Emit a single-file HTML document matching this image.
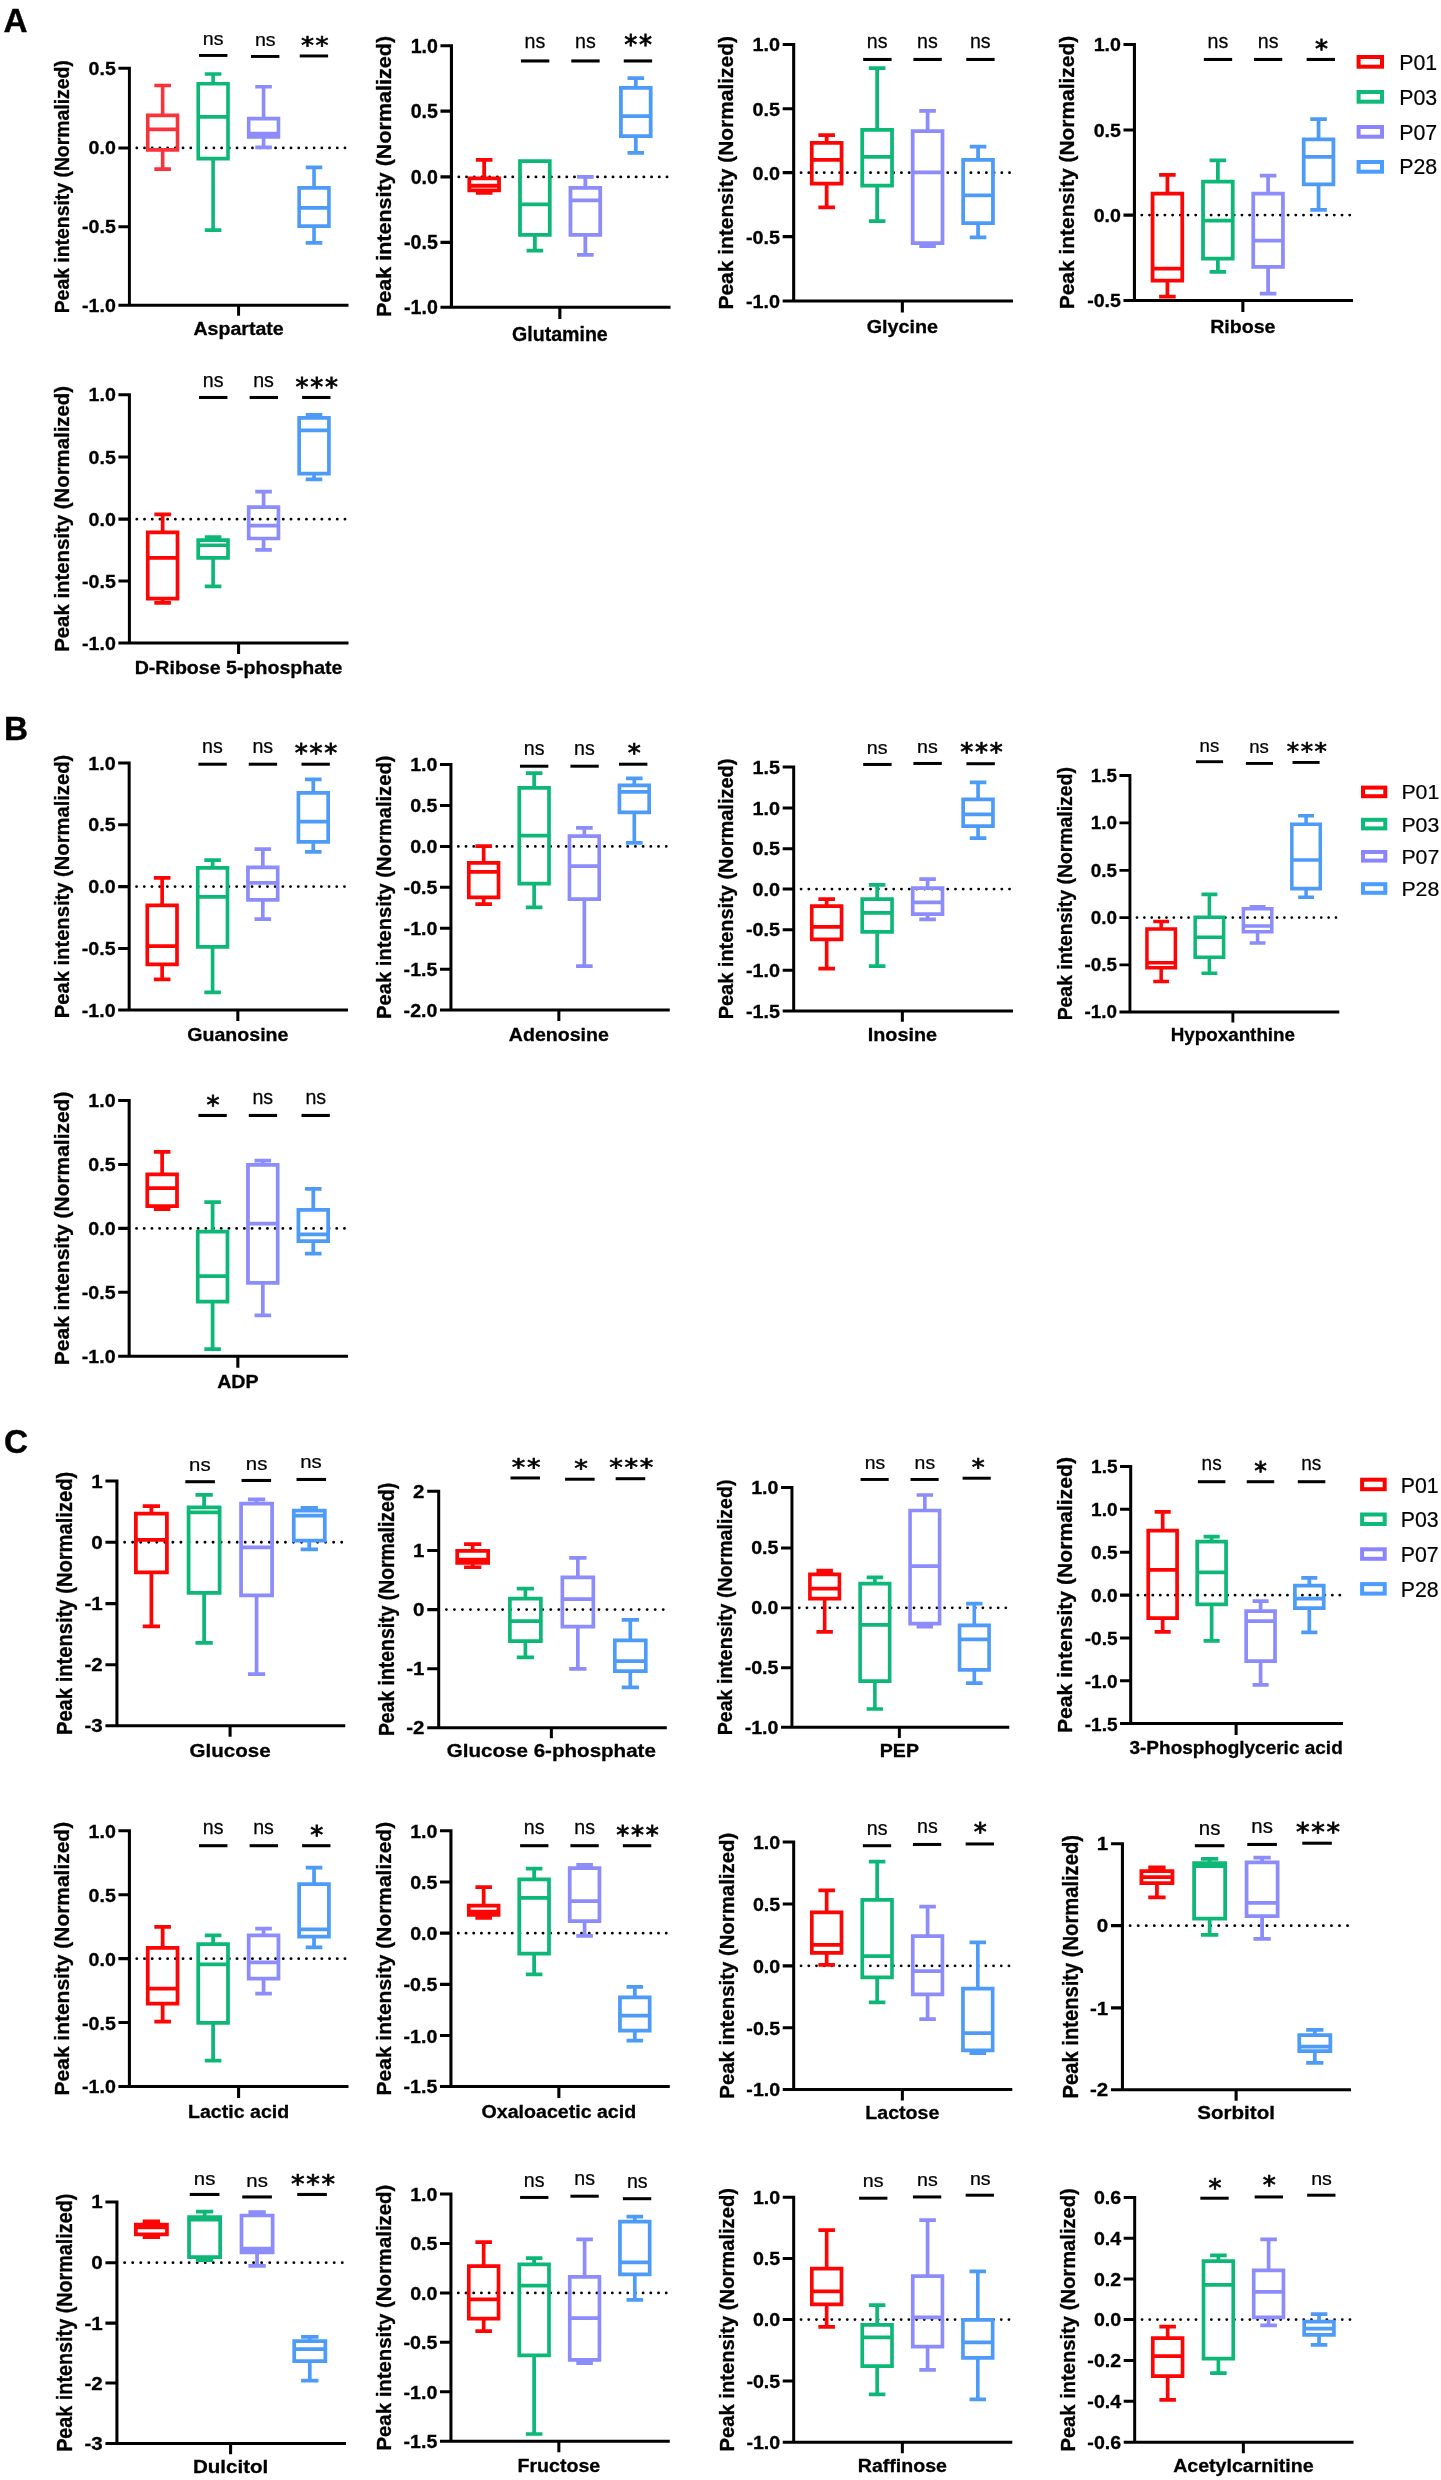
<!DOCTYPE html>
<html lang="en"><head><meta charset="utf-8"><title>Figure</title>
<style>
html,body{margin:0;padding:0;background:#fff}
svg{display:block;will-change:transform}
text{font-family:"Liberation Sans",Arial,sans-serif;fill:#000}
.b{font-weight:bold;font-size:19.4px;stroke:#000;stroke-width:.3px}
.n{font-size:19.6px;stroke:#000;stroke-width:.25px}
.s{font-family:"DejaVu Sans","Liberation Sans",sans-serif;font-size:26.0px;stroke:#000;stroke-width:.8px;letter-spacing:1.7px}
.l{font-size:21.3px;stroke:#000;stroke-width:.2px}
.p{font-weight:bold;font-size:33.3px;stroke:#000;stroke-width:.4px}
</style></head><body>
<svg width="1441" height="2480" viewBox="0 0 1441 2480">
<rect width="1441" height="2480" fill="#fff"/>
<g>
<line x1="136.8" y1="147.9" x2="346.59" y2="147.9" stroke="#000" stroke-width="2.8" stroke-linecap="round" stroke-dasharray="0 7.71"/>
<path d="M154.34 85.44H170.93M154.34 169.13H170.93M162.64 85.44V115.42M162.64 149.9V169.13M147.75 115.42H177.52V149.9H147.75ZM147.75 129.41H177.52" fill="none" stroke="#F8333C" stroke-width="3.6" stroke-linejoin="miter"/>
<path d="M204.81 73.95H221.39M204.81 230.09H221.39M213.1 73.95V83.69M213.1 158.64V230.09M198.22 83.69H227.99V158.64H198.22ZM198.22 116.92H227.99" fill="none" stroke="#0DB877" stroke-width="3.6" stroke-linejoin="miter"/>
<path d="M255.27 86.69H271.86M255.27 147.4H271.86M263.57 86.69V118.67M263.57 136.9V147.4M248.68 118.67H278.45V136.9H248.68ZM248.68 133.66H278.45" fill="none" stroke="#8C8CFA" stroke-width="3.6" stroke-linejoin="miter"/>
<path d="M305.74 167.38H322.32M305.74 242.83H322.32M314.03 167.38V187.87M314.03 226.09V242.83M299.15 187.87H328.92V226.09H299.15ZM299.15 207.86H328.92" fill="none" stroke="#4D9BF7" stroke-width="3.6" stroke-linejoin="miter"/>
<path d="M129.41 66.73V305.29H348.51M118.42 68.2H129.41M118.42 147.9H129.41M118.42 226.84H129.41M118.42 305.29H129.41M238.58 305.29V315.81" fill="none" stroke="#000" stroke-width="2.95" stroke-linecap="butt" stroke-linejoin="miter"/>
<text class="b" text-anchor="end" transform="translate(115.82 74.62) scale(1.01 0.91)">0.5</text>
<text class="b" text-anchor="end" transform="translate(115.82 154.31) scale(1.01 0.91)">0.0</text>
<text class="b" text-anchor="end" transform="translate(115.82 233.26) scale(1.01 0.91)">-0.5</text>
<text class="b" text-anchor="end" transform="translate(115.82 311.7) scale(1.01 0.91)">-1.0</text>
<text class="b" text-anchor="middle" transform="translate(69.27 186.75) rotate(-90) scale(1 1.05)">Peak intensity (Normalized)</text>
<text class="b" text-anchor="middle" transform="translate(238.58 335.07) scale(1.01 0.91)">Aspartate</text>
<line x1="199.04" y1="55.46" x2="227.41" y2="55.46" stroke="#000" stroke-width="2.95"/>
<text class="n" text-anchor="middle" transform="translate(213.1 45.12) scale(1 0.95)">ns</text>
<line x1="251" y1="56.46" x2="279.38" y2="56.46" stroke="#000" stroke-width="2.95"/>
<text class="n" text-anchor="middle" transform="translate(265.32 46.37) scale(1 0.95)">ns</text>
<line x1="299.72" y1="55.96" x2="328.09" y2="55.96" stroke="#000" stroke-width="2.95"/>
<text class="s" text-anchor="middle" transform="translate(315.63 52.67) scale(1 0.9)">**</text>
</g>
<g>
<line x1="458.83" y1="176.88" x2="668.62" y2="176.88" stroke="#000" stroke-width="2.95" stroke-linecap="round" stroke-dasharray="0 7.71"/>
<path d="M475.87 159.89H492.46M475.87 192.87H492.46M484.16 159.89V178.38M484.16 190.37V192.87M469.28 178.38H499.05V190.37H469.28ZM469.28 185.75H499.05" fill="none" stroke="#FE0505" stroke-width="3.79" stroke-linejoin="miter"/>
<path d="M526.59 161.14H543.17M526.59 250.58H543.17M534.88 161.14V161.14M534.88 234.84V250.58M519.99 161.14H549.76V234.84H519.99ZM519.99 204.36H549.76" fill="none" stroke="#0DB877" stroke-width="3.79" stroke-linejoin="miter"/>
<path d="M577.05 176.88H593.64M577.05 254.82H593.64M585.34 176.88V187.87M585.34 234.84V254.82M570.46 187.87H600.23V234.84H570.46ZM570.46 200.36H600.23" fill="none" stroke="#8C8CFA" stroke-width="3.79" stroke-linejoin="miter"/>
<path d="M627.52 78.2H644.1M627.52 152.89H644.1M635.81 78.2V87.94M635.81 136.16V152.89M620.92 87.94H650.69V136.16H620.92ZM620.92 116.17H650.69" fill="none" stroke="#4D9BF7" stroke-width="3.79" stroke-linejoin="miter"/>
<path d="M451.44 44.17V307.29H670.53M440.45 45.72H451.44M440.45 111.17H451.44M440.45 176.88H451.44M440.45 242.33H451.44M440.45 307.29H451.44M559.86 307.29V318.9" fill="none" stroke="#000" stroke-width="3.1" stroke-linecap="butt" stroke-linejoin="miter"/>
<text class="b" text-anchor="end" transform="translate(437.85 52.8) scale(1.01 1.01)">1.0</text>
<text class="b" text-anchor="end" transform="translate(437.85 118.25) scale(1.01 1.01)">0.5</text>
<text class="b" text-anchor="end" transform="translate(437.85 183.96) scale(1.01 1.01)">0.0</text>
<text class="b" text-anchor="end" transform="translate(437.85 249.41) scale(1.01 1.01)">-0.5</text>
<text class="b" text-anchor="end" transform="translate(437.85 314.36) scale(1.01 1.01)">-1.0</text>
<text class="b" text-anchor="middle" transform="translate(391.29 176.5) rotate(-90) scale(1.11 1.05)">Peak intensity (Normalized)</text>
<text class="b" text-anchor="middle" transform="translate(559.86 341.06) scale(1.01 1.01)">Glutamine</text>
<line x1="520.94" y1="60.96" x2="549.32" y2="60.96" stroke="#000" stroke-width="3.1"/>
<text class="n" text-anchor="middle" transform="translate(534.88 48.37) scale(1 1.05)">ns</text>
<line x1="571.28" y1="60.96" x2="599.66" y2="60.96" stroke="#000" stroke-width="3.1"/>
<text class="n" text-anchor="middle" transform="translate(585.34 48.37) scale(1 1.05)">ns</text>
<line x1="623.75" y1="60.96" x2="652.12" y2="60.96" stroke="#000" stroke-width="3.1"/>
<text class="s" text-anchor="middle" transform="translate(638.91 53.8) scale(1 1)">**</text>
</g>
<g>
<line x1="801.09" y1="172.63" x2="1011.12" y2="172.63" stroke="#000" stroke-width="2.92" stroke-linecap="round" stroke-dasharray="0 7.72"/>
<path d="M818.36 135.16H834.96M818.36 207.36H834.96M826.66 135.16V142.9M826.66 183.62V207.36M811.76 142.9H841.57V183.62H811.76ZM811.76 159.89H841.57" fill="none" stroke="#FE0505" stroke-width="3.75" stroke-linejoin="miter"/>
<path d="M868.83 68.2H885.43M868.83 221.1H885.43M877.13 68.2V129.91M877.13 185.62V221.1M862.22 129.91H892.03V185.62H862.22ZM862.22 156.89H892.03" fill="none" stroke="#0DB877" stroke-width="3.75" stroke-linejoin="miter"/>
<path d="M919.29 110.92H935.89M919.29 246.08H935.89M927.59 110.92V131.16M927.59 243.08V246.08M912.69 131.16H942.5V243.08H912.69ZM912.69 172.38H942.5" fill="none" stroke="#8C8CFA" stroke-width="3.75" stroke-linejoin="miter"/>
<path d="M969.76 146.65H986.36M969.76 237.34H986.36M978.06 146.65V159.89M978.06 223.1V237.34M963.15 159.89H992.96V223.1H963.15ZM963.15 195.36H992.96" fill="none" stroke="#4D9BF7" stroke-width="3.75" stroke-linejoin="miter"/>
<path d="M793.68 42.93V301.04H1013.03M782.68 44.47H793.68M782.68 108.67H793.68M782.68 172.63H793.68M782.68 236.59H793.68M782.68 301.04H793.68M902.36 301.04V312.43" fill="none" stroke="#000" stroke-width="3.08" stroke-linecap="butt" stroke-linejoin="miter"/>
<text class="b" text-anchor="end" transform="translate(780.08 51.41) scale(1.02 0.99)">1.0</text>
<text class="b" text-anchor="end" transform="translate(780.08 115.62) scale(1.02 0.99)">0.5</text>
<text class="b" text-anchor="end" transform="translate(780.08 179.57) scale(1.02 0.99)">0.0</text>
<text class="b" text-anchor="end" transform="translate(780.08 243.53) scale(1.02 0.99)">-0.5</text>
<text class="b" text-anchor="end" transform="translate(780.08 307.98) scale(1.02 0.99)">-1.0</text>
<text class="b" text-anchor="middle" transform="translate(733.47 172.76) rotate(-90) scale(1.08 1.05)">Peak intensity (Normalized)</text>
<text class="b" text-anchor="middle" transform="translate(902.36 332.57) scale(1.02 0.99)">Glycine</text>
<line x1="863.17" y1="59.46" x2="891.58" y2="59.46" stroke="#000" stroke-width="3.08"/>
<text class="n" text-anchor="middle" transform="translate(877.13 47.87) scale(1 1.03)">ns</text>
<line x1="913.39" y1="59.46" x2="941.8" y2="59.46" stroke="#000" stroke-width="3.08"/>
<text class="n" text-anchor="middle" transform="translate(927.34 47.87) scale(1 1.03)">ns</text>
<line x1="966.23" y1="59.46" x2="994.63" y2="59.46" stroke="#000" stroke-width="3.08"/>
<text class="n" text-anchor="middle" transform="translate(980.31 47.87) scale(1 1.03)">ns</text>
</g>
<g>
<line x1="1141.81" y1="215.1" x2="1351.12" y2="215.1" stroke="#000" stroke-width="2.91" stroke-linecap="round" stroke-dasharray="0 7.7"/>
<path d="M1159.14 174.88H1175.68M1159.14 296.54H1175.68M1167.41 174.88V193.62M1167.41 280.56V296.54M1152.56 193.62H1182.26V280.56H1152.56ZM1152.56 268.56H1182.26" fill="none" stroke="#FE0505" stroke-width="3.74" stroke-linejoin="miter"/>
<path d="M1209.6 160.39H1226.15M1209.6 271.81H1226.15M1217.88 160.39V181.62M1217.88 258.57V271.81M1203.02 181.62H1232.73V258.57H1203.02ZM1203.02 220.6H1232.73" fill="none" stroke="#0DB877" stroke-width="3.74" stroke-linejoin="miter"/>
<path d="M1259.82 175.63H1276.37M1259.82 293.55H1276.37M1268.09 175.63V193.62M1268.09 266.81V293.55M1253.24 193.62H1282.94V266.81H1253.24ZM1253.24 240.58H1282.94" fill="none" stroke="#8C8CFA" stroke-width="3.74" stroke-linejoin="miter"/>
<path d="M1310.28 119.17H1326.83M1310.28 209.85H1326.83M1318.56 119.17V139.4M1318.56 184.37V209.85M1303.7 139.4H1333.41V184.37H1303.7ZM1303.7 156.89H1333.41" fill="none" stroke="#4D9BF7" stroke-width="3.74" stroke-linejoin="miter"/>
<path d="M1134.43 42.94V300.54H1353.03M1123.47 44.47H1134.43M1123.47 129.91H1134.43M1123.47 215.1H1134.43M1123.47 300.54H1134.43M1242.86 300.54V311.91" fill="none" stroke="#000" stroke-width="3.07" stroke-linecap="butt" stroke-linejoin="miter"/>
<text class="b" text-anchor="end" transform="translate(1120.88 51.4) scale(1.01 0.99)">1.0</text>
<text class="b" text-anchor="end" transform="translate(1120.88 136.84) scale(1.01 0.99)">0.5</text>
<text class="b" text-anchor="end" transform="translate(1120.88 222.03) scale(1.01 0.99)">0.0</text>
<text class="b" text-anchor="end" transform="translate(1120.88 307.47) scale(1.01 0.99)">-0.5</text>
<text class="b" text-anchor="middle" transform="translate(1074.43 172.51) rotate(-90) scale(1.08 1.05)">Peak intensity (Normalized)</text>
<text class="b" text-anchor="middle" transform="translate(1242.86 332.57) scale(1.01 0.99)">Ribose</text>
<line x1="1203.85" y1="59.46" x2="1232.16" y2="59.46" stroke="#000" stroke-width="3.07"/>
<text class="n" text-anchor="middle" transform="translate(1217.88 47.87) scale(1 1.03)">ns</text>
<line x1="1253.94" y1="59.46" x2="1282.25" y2="59.46" stroke="#000" stroke-width="3.07"/>
<text class="n" text-anchor="middle" transform="translate(1268.09 47.87) scale(1 1.03)">ns</text>
<line x1="1306.65" y1="59.46" x2="1334.96" y2="59.46" stroke="#000" stroke-width="3.07"/>
<text class="s" text-anchor="middle" transform="translate(1322.4 56.79) scale(1 0.97)">*</text>
</g>
<g>
<line x1="136.8" y1="519.13" x2="346.59" y2="519.13" stroke="#000" stroke-width="2.87" stroke-linecap="round" stroke-dasharray="0 7.71"/>
<path d="M154.34 514.39H170.93M154.34 602.82H170.93M162.64 514.39V532.37M162.64 598.58V602.82M147.75 532.37H177.52V598.58H147.75ZM147.75 557.86H177.52" fill="none" stroke="#FE0505" stroke-width="3.69" stroke-linejoin="miter"/>
<path d="M204.81 537.07H221.39M204.81 586.29H221.39M213.1 537.07V540.19M213.1 557.86V586.29M198.22 540.19H227.99V557.86H198.22ZM198.22 545.24H227.99" fill="none" stroke="#0DB877" stroke-width="3.69" stroke-linejoin="miter"/>
<path d="M255.27 491.6H271.86M255.27 549.86H271.86M263.57 491.6V507.14M263.57 538.52V549.86M248.68 507.14H278.45V538.52H248.68ZM248.68 525.63H278.45" fill="none" stroke="#8C8CFA" stroke-width="3.69" stroke-linejoin="miter"/>
<path d="M305.74 414.95H322.32M305.74 479.41H322.32M314.03 414.95V417.95M314.03 473.66V479.41M299.15 417.95H328.92V473.66H299.15ZM299.15 430.44H328.92" fill="none" stroke="#4D9BF7" stroke-width="3.69" stroke-linejoin="miter"/>
<path d="M129.41 393.21V643.05H348.51M118.42 394.72H129.41M118.42 456.93H129.41M118.42 519.13H129.41M118.42 581.09H129.41M118.42 643.05H129.41M238.58 643.05V654.07" fill="none" stroke="#000" stroke-width="3.02" stroke-linecap="butt" stroke-linejoin="miter"/>
<text class="b" text-anchor="end" transform="translate(115.82 401.44) scale(1.01 0.96)">1.0</text>
<text class="b" text-anchor="end" transform="translate(115.82 463.65) scale(1.01 0.96)">0.5</text>
<text class="b" text-anchor="end" transform="translate(115.82 525.85) scale(1.01 0.96)">0.0</text>
<text class="b" text-anchor="end" transform="translate(115.82 587.81) scale(1.01 0.96)">-0.5</text>
<text class="b" text-anchor="end" transform="translate(115.82 649.77) scale(1.01 0.96)">-1.0</text>
<text class="b" text-anchor="middle" transform="translate(69.27 518.88) rotate(-90) scale(1.05 1.05)">Peak intensity (Normalized)</text>
<text class="b" text-anchor="middle" transform="translate(238.58 674.33) scale(1.01 0.96)">D-Ribose 5-phosphate</text>
<line x1="199.04" y1="397.47" x2="227.41" y2="397.47" stroke="#000" stroke-width="3.02"/>
<text class="n" text-anchor="middle" transform="translate(213.1 387.37) scale(1 1)">ns</text>
<line x1="249.63" y1="397.47" x2="278" y2="397.47" stroke="#000" stroke-width="3.02"/>
<text class="n" text-anchor="middle" transform="translate(263.57 387.37) scale(1 1)">ns</text>
<line x1="302.09" y1="397.47" x2="330.47" y2="397.47" stroke="#000" stroke-width="3.02"/>
<text class="s" text-anchor="middle" transform="translate(317.63 395.19) scale(1 0.95)">***</text>
</g>
<g>
<line x1="136.55" y1="886.62" x2="346.1" y2="886.62" stroke="#000" stroke-width="2.86" stroke-linecap="round" stroke-dasharray="0 7.7"/>
<path d="M153.85 877.88H170.42M153.85 979.31H170.42M162.14 877.88V905.36M162.14 964.32V979.31M147.27 905.36H177.01V964.32H147.27ZM147.27 946.08H177.01" fill="none" stroke="#FE0505" stroke-width="3.68" stroke-linejoin="miter"/>
<path d="M204.32 860.14H220.89M204.32 992.3H220.89M212.6 860.14V867.88M212.6 946.83V992.3M197.73 867.88H227.47V946.83H197.73ZM197.73 896.86H227.47" fill="none" stroke="#0DB877" stroke-width="3.68" stroke-linejoin="miter"/>
<path d="M254.53 849.15H271.1M254.53 919.1H271.1M262.82 849.15V867.38M262.82 899.86V919.1M247.95 867.38H277.69V899.86H247.95ZM247.95 882.87H277.69" fill="none" stroke="#8C8CFA" stroke-width="3.68" stroke-linejoin="miter"/>
<path d="M305 779.44H321.57M305 851.89H321.57M313.28 779.44V792.94M313.28 841.9V851.89M298.41 792.94H328.15V841.9H298.41ZM298.41 821.67H328.15" fill="none" stroke="#4D9BF7" stroke-width="3.68" stroke-linejoin="miter"/>
<path d="M129.16 761.45V1010.03H348.01M118.18 762.96H129.16M118.18 824.66H129.16M118.18 886.62H129.16M118.18 948.58H129.16M118.18 1010.03H129.16M237.83 1010.03V1021" fill="none" stroke="#000" stroke-width="3.01" stroke-linecap="butt" stroke-linejoin="miter"/>
<text class="b" text-anchor="end" transform="translate(115.59 769.64) scale(1.01 0.95)">1.0</text>
<text class="b" text-anchor="end" transform="translate(115.59 831.35) scale(1.01 0.95)">0.5</text>
<text class="b" text-anchor="end" transform="translate(115.59 893.31) scale(1.01 0.95)">0.0</text>
<text class="b" text-anchor="end" transform="translate(115.59 955.26) scale(1.01 0.95)">-0.5</text>
<text class="b" text-anchor="end" transform="translate(115.59 1016.72) scale(1.01 0.95)">-1.0</text>
<text class="b" text-anchor="middle" transform="translate(69.08 886.5) rotate(-90) scale(1.04 1.05)">Peak intensity (Normalized)</text>
<text class="b" text-anchor="middle" transform="translate(237.83 1040.56) scale(1.01 0.95)">Guanosine</text>
<line x1="198.43" y1="764.21" x2="226.77" y2="764.21" stroke="#000" stroke-width="3.01"/>
<text class="n" text-anchor="middle" transform="translate(212.35 753.36) scale(1 0.99)">ns</text>
<line x1="248.77" y1="764.21" x2="277.11" y2="764.21" stroke="#000" stroke-width="3.01"/>
<text class="n" text-anchor="middle" transform="translate(262.82 753.36) scale(1 0.99)">ns</text>
<line x1="301.49" y1="764.21" x2="329.83" y2="764.21" stroke="#000" stroke-width="3.01"/>
<text class="s" text-anchor="middle" transform="translate(316.88 761.37) scale(1 0.94)">***</text>
</g>
<g>
<line x1="458.32" y1="846.4" x2="667.87" y2="846.4" stroke="#000" stroke-width="2.85" stroke-linecap="round" stroke-dasharray="0 7.7"/>
<path d="M475.38 846.15H491.95M475.38 904.11H491.95M483.66 846.15V862.89M483.66 897.36V904.11M468.79 862.89H498.53V897.36H468.79ZM468.79 871.88H498.53" fill="none" stroke="#FE0505" stroke-width="3.67" stroke-linejoin="miter"/>
<path d="M525.85 773.2H542.41M525.85 907.36H542.41M534.13 773.2V787.94M534.13 883.62V907.36M519.26 787.94H549V883.62H519.26ZM519.26 835.66H549" fill="none" stroke="#0DB877" stroke-width="3.67" stroke-linejoin="miter"/>
<path d="M576.06 827.91H592.63M576.06 966.07H592.63M584.34 827.91V836.16M584.34 899.11V966.07M569.47 836.16H599.21V899.11H569.47ZM569.47 866.13H599.21" fill="none" stroke="#8C8CFA" stroke-width="3.67" stroke-linejoin="miter"/>
<path d="M626.03 778.45H642.59M626.03 842.9H642.59M634.31 778.45V785.44M634.31 812.42V842.9M619.44 785.44H649.18V812.42H619.44ZM619.44 791.94H649.18" fill="none" stroke="#4D9BF7" stroke-width="3.67" stroke-linejoin="miter"/>
<path d="M450.94 762.95V1010.03H669.78M439.96 764.46H450.94M439.96 805.43H450.94M439.96 846.4H450.94M439.96 887.37H450.94M439.96 928.34H450.94M439.96 969.31H450.94M439.96 1010.03H450.94M558.86 1010.03V1020.94" fill="none" stroke="#000" stroke-width="3" stroke-linecap="butt" stroke-linejoin="miter"/>
<text class="b" text-anchor="end" transform="translate(437.36 771.1) scale(1.01 0.94)">1.0</text>
<text class="b" text-anchor="end" transform="translate(437.36 812.07) scale(1.01 0.94)">0.5</text>
<text class="b" text-anchor="end" transform="translate(437.36 853.04) scale(1.01 0.94)">0.0</text>
<text class="b" text-anchor="end" transform="translate(437.36 894.02) scale(1.01 0.94)">-0.5</text>
<text class="b" text-anchor="end" transform="translate(437.36 934.99) scale(1.01 0.94)">-1.0</text>
<text class="b" text-anchor="end" transform="translate(437.36 975.96) scale(1.01 0.94)">-1.5</text>
<text class="b" text-anchor="end" transform="translate(437.36 1016.68) scale(1.01 0.94)">-2.0</text>
<text class="b" text-anchor="middle" transform="translate(390.86 887.24) rotate(-90) scale(1.04 1.05)">Peak intensity (Normalized)</text>
<text class="b" text-anchor="middle" transform="translate(558.86 1040.56) scale(1.01 0.94)">Adenosine</text>
<line x1="519.96" y1="766.2" x2="548.3" y2="766.2" stroke="#000" stroke-width="3"/>
<text class="n" text-anchor="middle" transform="translate(534.13 755.36) scale(1 0.99)">ns</text>
<line x1="570.42" y1="766.2" x2="598.76" y2="766.2" stroke="#000" stroke-width="3"/>
<text class="n" text-anchor="middle" transform="translate(584.34 755.36) scale(1 0.99)">ns</text>
<line x1="619.01" y1="764.21" x2="647.36" y2="764.21" stroke="#000" stroke-width="3"/>
<text class="s" text-anchor="middle" transform="translate(635.16 761.3) scale(1 0.93)">*</text>
</g>
<g>
<line x1="801.09" y1="889.12" x2="1011.12" y2="889.12" stroke="#000" stroke-width="2.85" stroke-linecap="round" stroke-dasharray="0 7.72"/>
<path d="M818.36 899.11H834.96M818.36 968.56H834.96M826.66 899.11V906.11M826.66 939.33V968.56M811.76 906.11H841.57V939.33H811.76ZM811.76 926.84H841.57" fill="none" stroke="#FE0505" stroke-width="3.66" stroke-linejoin="miter"/>
<path d="M868.83 884.87H885.43M868.83 966.07H885.43M877.13 884.87V899.11M877.13 931.84V966.07M862.22 899.11H892.03V931.84H862.22ZM862.22 912.85H892.03" fill="none" stroke="#0DB877" stroke-width="3.66" stroke-linejoin="miter"/>
<path d="M919.29 879.13H935.89M919.29 919.35H935.89M927.59 879.13V888.12M927.59 914.1V919.35M912.69 888.12H942.5V914.1H912.69ZM912.69 902.36H942.5" fill="none" stroke="#8C8CFA" stroke-width="3.66" stroke-linejoin="miter"/>
<path d="M969.76 782.44H986.36M969.76 838.15H986.36M978.06 782.44V799.43M978.06 826.16V838.15M963.15 799.43H992.96V826.16H963.15ZM963.15 814.42H992.96" fill="none" stroke="#4D9BF7" stroke-width="3.66" stroke-linejoin="miter"/>
<path d="M793.68 765.45V1011.03H1013.03M782.68 766.95H793.68M782.68 807.93H793.68M782.68 848.65H793.68M782.68 889.12H793.68M782.68 929.84H793.68M782.68 970.31H793.68M782.68 1011.03H793.68M902.36 1011.03V1021.87" fill="none" stroke="#000" stroke-width="3" stroke-linecap="butt" stroke-linejoin="miter"/>
<text class="b" text-anchor="end" transform="translate(780.08 773.56) scale(1.02 0.94)">1.5</text>
<text class="b" text-anchor="end" transform="translate(780.08 814.53) scale(1.02 0.94)">1.0</text>
<text class="b" text-anchor="end" transform="translate(780.08 855.25) scale(1.02 0.94)">0.5</text>
<text class="b" text-anchor="end" transform="translate(780.08 895.72) scale(1.02 0.94)">0.0</text>
<text class="b" text-anchor="end" transform="translate(780.08 936.45) scale(1.02 0.94)">-0.5</text>
<text class="b" text-anchor="end" transform="translate(780.08 976.92) scale(1.02 0.94)">-1.0</text>
<text class="b" text-anchor="end" transform="translate(780.08 1017.64) scale(1.02 0.94)">-1.5</text>
<text class="b" text-anchor="middle" transform="translate(733.47 888.99) rotate(-90) scale(1.03 1.05)">Peak intensity (Normalized)</text>
<text class="b" text-anchor="middle" transform="translate(902.36 1040.56) scale(1.02 0.94)">Inosine</text>
<line x1="863.17" y1="764.46" x2="891.58" y2="764.46" stroke="#000" stroke-width="3"/>
<text class="n" text-anchor="middle" transform="translate(877.13 753.61) scale(1 0.98)">ns</text>
<line x1="913.39" y1="763.46" x2="941.8" y2="763.46" stroke="#000" stroke-width="3"/>
<text class="n" text-anchor="middle" transform="translate(927.34 752.86) scale(1 0.98)">ns</text>
<line x1="966.48" y1="763.71" x2="994.88" y2="763.71" stroke="#000" stroke-width="3"/>
<text class="s" text-anchor="middle" transform="translate(982.4 760.49) scale(1 0.93)">***</text>
</g>
<g>
<line x1="1137" y1="917.6" x2="1337.46" y2="917.6" stroke="#000" stroke-width="2.74" stroke-linecap="round" stroke-dasharray="0 7.37"/>
<path d="M1153.24 921.6H1169.09M1153.24 981.55H1169.09M1161.17 921.6V929.09M1161.17 967.81V981.55M1146.94 929.09H1175.39V967.81H1146.94ZM1146.94 962.82H1175.39" fill="none" stroke="#FE0505" stroke-width="3.52" stroke-linejoin="miter"/>
<path d="M1201.46 894.37H1217.31M1201.46 973.31H1217.31M1209.38 894.37V917.35M1209.38 957.32V973.31M1195.16 917.35H1223.61V957.32H1195.16ZM1195.16 937.34H1223.61" fill="none" stroke="#0DB877" stroke-width="3.52" stroke-linejoin="miter"/>
<path d="M1249.68 906.86H1265.52M1249.68 943.08H1265.52M1257.6 906.86V908.85M1257.6 931.84V943.08M1243.37 908.85H1271.82V931.84H1243.37ZM1243.37 926.09H1271.82" fill="none" stroke="#8C8CFA" stroke-width="3.52" stroke-linejoin="miter"/>
<path d="M1298.14 815.67H1313.99M1298.14 897.36H1313.99M1306.07 815.67V824.16M1306.07 888.62V897.36M1291.84 824.16H1320.29V888.62H1291.84ZM1291.84 859.89H1320.29" fill="none" stroke="#4D9BF7" stroke-width="3.52" stroke-linejoin="miter"/>
<path d="M1129.94 774.01V1012.03H1339.29M1119.44 775.45H1129.94M1119.44 822.91H1129.94M1119.44 870.38H1129.94M1119.44 917.6H1129.94M1119.44 964.82H1129.94M1119.44 1012.03H1129.94M1232.87 1012.03V1022.54" fill="none" stroke="#000" stroke-width="2.88" stroke-linecap="butt" stroke-linejoin="miter"/>
<text class="b" text-anchor="end" transform="translate(1116.95 781.85) scale(0.97 0.91)">1.5</text>
<text class="b" text-anchor="end" transform="translate(1116.95 829.32) scale(0.97 0.91)">1.0</text>
<text class="b" text-anchor="end" transform="translate(1116.95 876.78) scale(0.97 0.91)">0.5</text>
<text class="b" text-anchor="end" transform="translate(1116.95 924) scale(0.97 0.91)">0.0</text>
<text class="b" text-anchor="end" transform="translate(1116.95 971.22) scale(0.97 0.91)">-0.5</text>
<text class="b" text-anchor="end" transform="translate(1116.95 1018.44) scale(0.97 0.91)">-1.0</text>
<text class="b" text-anchor="middle" transform="translate(1072.47 893.74) rotate(-90) scale(1 1)">Peak intensity (Normalized)</text>
<text class="b" text-anchor="middle" transform="translate(1232.87 1041.06) scale(0.97 0.91)">Hypoxanthine</text>
<line x1="1195.95" y1="761.71" x2="1223.06" y2="761.71" stroke="#000" stroke-width="2.88"/>
<text class="n" text-anchor="middle" transform="translate(1209.38 752.11) scale(0.95 0.95)">ns</text>
<line x1="1245.92" y1="763.46" x2="1273.03" y2="763.46" stroke="#000" stroke-width="2.88"/>
<text class="n" text-anchor="middle" transform="translate(1259.1 752.86) scale(0.95 0.95)">ns</text>
<line x1="1292.51" y1="762.46" x2="1319.62" y2="762.46" stroke="#000" stroke-width="2.88"/>
<text class="s" text-anchor="middle" transform="translate(1307.63 759.14) scale(0.95 0.9)">***</text>
</g>
<g>
<line x1="136.55" y1="1228.38" x2="346.1" y2="1228.38" stroke="#000" stroke-width="2.91" stroke-linecap="round" stroke-dasharray="0 7.7"/>
<path d="M153.85 1151.93H170.42M153.85 1209.14H170.42M162.14 1151.93V1174.41M162.14 1206.14V1209.14M147.27 1174.41H177.01V1206.14H147.27ZM147.27 1188.15H177.01" fill="none" stroke="#FE0505" stroke-width="3.74" stroke-linejoin="miter"/>
<path d="M204.32 1202.14H220.89M204.32 1349.04H220.89M212.6 1202.14V1231.62M212.6 1301.58V1349.04M197.73 1231.62H227.47V1301.58H197.73ZM197.73 1276.09H227.47" fill="none" stroke="#0DB877" stroke-width="3.74" stroke-linejoin="miter"/>
<path d="M254.53 1160.67H271.1M254.53 1315.32H271.1M262.82 1160.67V1164.92M262.82 1282.84V1315.32M247.95 1164.92H277.69V1282.84H247.95ZM247.95 1223.63H277.69" fill="none" stroke="#8C8CFA" stroke-width="3.74" stroke-linejoin="miter"/>
<path d="M305 1188.9H321.57M305 1253.61H321.57M313.28 1188.9V1209.89M313.28 1241.12V1253.61M298.41 1209.89H328.15V1241.12H298.41ZM298.41 1234.37H328.15" fill="none" stroke="#4D9BF7" stroke-width="3.74" stroke-linejoin="miter"/>
<path d="M129.16 1098.93V1356.29H348.01M118.18 1100.46H129.16M118.18 1164.42H129.16M118.18 1228.38H129.16M118.18 1292.33H129.16M118.18 1356.29H129.16M237.83 1356.29V1367.65" fill="none" stroke="#000" stroke-width="3.07" stroke-linecap="butt" stroke-linejoin="miter"/>
<text class="b" text-anchor="end" transform="translate(115.59 1107.39) scale(1.01 0.98)">1.0</text>
<text class="b" text-anchor="end" transform="translate(115.59 1171.34) scale(1.01 0.98)">0.5</text>
<text class="b" text-anchor="end" transform="translate(115.59 1235.3) scale(1.01 0.98)">0.0</text>
<text class="b" text-anchor="end" transform="translate(115.59 1299.25) scale(1.01 0.98)">-0.5</text>
<text class="b" text-anchor="end" transform="translate(115.59 1363.21) scale(1.01 0.98)">-1.0</text>
<text class="b" text-anchor="middle" transform="translate(69.08 1228.38) rotate(-90) scale(1.08 1.05)">Peak intensity (Normalized)</text>
<text class="b" text-anchor="middle" transform="translate(237.83 1387.57) scale(1.01 0.98)">ADP</text>
<line x1="198.43" y1="1115.45" x2="226.77" y2="1115.45" stroke="#000" stroke-width="3.07"/>
<text class="s" text-anchor="middle" transform="translate(213.95 1112.53) scale(1 0.97)">*</text>
<line x1="248.77" y1="1115.45" x2="277.11" y2="1115.45" stroke="#000" stroke-width="3.07"/>
<text class="n" text-anchor="middle" transform="translate(262.82 1103.61) scale(1 1.03)">ns</text>
<line x1="301.49" y1="1115.45" x2="329.83" y2="1115.45" stroke="#000" stroke-width="3.07"/>
<text class="n" text-anchor="middle" transform="translate(315.78 1103.61) scale(1 1.03)">ns</text>
</g>
<g>
<line x1="124.62" y1="1542.17" x2="343.27" y2="1542.17" stroke="#000" stroke-width="2.91" stroke-linecap="round" stroke-dasharray="0 8.04"/>
<path d="M142.75 1506.19H160.04M142.75 1626.36H160.04M151.39 1506.19V1513.68M151.39 1572.39V1626.36M135.88 1513.68H166.91V1572.39H135.88ZM135.88 1539.92H166.91" fill="none" stroke="#FE0505" stroke-width="3.74" stroke-linejoin="miter"/>
<path d="M195.47 1494.95H212.75M195.47 1642.85H212.75M204.11 1494.95V1507.44M204.11 1592.88V1642.85M188.59 1507.44H219.62V1592.88H188.59ZM188.59 1512.44H219.62" fill="none" stroke="#0DB877" stroke-width="3.74" stroke-linejoin="miter"/>
<path d="M247.93 1499.44H265.21M247.93 1674.07H265.21M256.57 1499.44V1503.69M256.57 1595.38V1674.07M241.06 1503.69H272.09V1595.38H241.06ZM241.06 1547.41H272.09" fill="none" stroke="#8C8CFA" stroke-width="3.74" stroke-linejoin="miter"/>
<path d="M300.64 1507.94H317.93M300.64 1549.41H317.93M309.29 1507.94V1510.69M309.29 1540.67V1549.41M293.77 1510.69H324.8V1540.67H293.77ZM293.77 1515.68H324.8" fill="none" stroke="#4D9BF7" stroke-width="3.74" stroke-linejoin="miter"/>
<path d="M116.92 1479.43V1725.79H345.26M105.47 1480.96H116.92M105.47 1542.17H116.92M105.47 1603.62H116.92M105.47 1664.83H116.92M105.47 1725.79H116.92M230.09 1725.79V1736.66" fill="none" stroke="#000" stroke-width="3.06" stroke-linecap="butt" stroke-linejoin="miter"/>
<text class="b" text-anchor="end" transform="translate(102.76 1487.58) scale(1.06 0.94)">1</text>
<text class="b" text-anchor="end" transform="translate(102.76 1548.79) scale(1.06 0.94)">0</text>
<text class="b" text-anchor="end" transform="translate(102.76 1610.25) scale(1.06 0.94)">-1</text>
<text class="b" text-anchor="end" transform="translate(102.76 1671.46) scale(1.06 0.94)">-2</text>
<text class="b" text-anchor="end" transform="translate(102.76 1732.41) scale(1.06 0.94)">-3</text>
<text class="b" text-anchor="middle" transform="translate(72.15 1603.37) rotate(-90) scale(1.04 1.09)">Peak intensity (Normalized)</text>
<text class="b" text-anchor="middle" transform="translate(230.09 1756.82) scale(1.06 0.94)">Glucose</text>
<line x1="185.33" y1="1481.71" x2="214.9" y2="1481.71" stroke="#000" stroke-width="3.06"/>
<text class="n" text-anchor="middle" transform="translate(199.86 1471.11) scale(1.04 0.98)">ns</text>
<line x1="241.54" y1="1480.46" x2="271.11" y2="1480.46" stroke="#000" stroke-width="3.06"/>
<text class="n" text-anchor="middle" transform="translate(256.57 1470.37) scale(1.04 0.98)">ns</text>
<line x1="296.5" y1="1479.46" x2="326.07" y2="1479.46" stroke="#000" stroke-width="3.06"/>
<text class="n" text-anchor="middle" transform="translate(311.03 1468.37) scale(1.04 0.98)">ns</text>
</g>
<g>
<line x1="446.39" y1="1609.62" x2="664.79" y2="1609.62" stroke="#000" stroke-width="2.86" stroke-linecap="round" stroke-dasharray="0 8.03"/>
<path d="M464.04 1544.16H481.3M464.04 1567.22H481.3M472.67 1544.16V1550.81M472.67 1563V1567.22M457.17 1550.81H488.17V1563H457.17ZM457.17 1559.65H488.17" fill="none" stroke="#FE0505" stroke-width="3.67" stroke-linejoin="miter"/>
<path d="M516.75 1588.63H534.02M516.75 1657.34H534.02M525.39 1588.63V1598.63M525.39 1641.1V1657.34M509.89 1598.63H540.88V1641.1H509.89ZM509.89 1621.11H540.88" fill="none" stroke="#0DB877" stroke-width="3.67" stroke-linejoin="miter"/>
<path d="M569.22 1557.9H586.48M569.22 1668.83H586.48M577.85 1557.9V1577.39M577.85 1626.61V1668.83M562.35 1577.39H593.35V1626.61H562.35ZM562.35 1599.13H593.35" fill="none" stroke="#8C8CFA" stroke-width="3.67" stroke-linejoin="miter"/>
<path d="M621.68 1619.86H638.95M621.68 1687.31H638.95M630.31 1619.86V1640.35M630.31 1671.08V1687.31M614.81 1640.35H645.81V1671.08H614.81ZM614.81 1661.08H645.81" fill="none" stroke="#4D9BF7" stroke-width="3.67" stroke-linejoin="miter"/>
<path d="M438.7 1489.7V1727.79H666.79M427.25 1491.2H438.7M427.25 1550.41H438.7M427.25 1609.62H438.7M427.25 1668.83H438.7M427.25 1727.79H438.7M551.37 1727.79V1738.29" fill="none" stroke="#000" stroke-width="3.01" stroke-linecap="butt" stroke-linejoin="miter"/>
<text class="b" text-anchor="end" transform="translate(424.55 1497.6) scale(1.06 0.91)">2</text>
<text class="b" text-anchor="end" transform="translate(424.55 1556.81) scale(1.06 0.91)">1</text>
<text class="b" text-anchor="end" transform="translate(424.55 1616.02) scale(1.06 0.91)">0</text>
<text class="b" text-anchor="end" transform="translate(424.55 1675.23) scale(1.06 0.91)">-1</text>
<text class="b" text-anchor="end" transform="translate(424.55 1734.19) scale(1.06 0.91)">-2</text>
<text class="b" text-anchor="middle" transform="translate(393.97 1609.49) rotate(-90) scale(1 1.09)">Peak intensity (Normalized)</text>
<text class="b" text-anchor="middle" transform="translate(551.37 1756.82) scale(1.06 0.91)">Glucose 6-phosphate</text>
<line x1="510.49" y1="1477.96" x2="540.03" y2="1477.96" stroke="#000" stroke-width="3.01"/>
<text class="s" text-anchor="middle" transform="translate(527.02 1475.14) scale(1.04 0.9)">**</text>
<line x1="565.08" y1="1479.21" x2="594.62" y2="1479.21" stroke="#000" stroke-width="3.01"/>
<text class="s" text-anchor="middle" transform="translate(581.98 1475.64) scale(1.04 0.9)">*</text>
<line x1="615.67" y1="1478.71" x2="645.21" y2="1478.71" stroke="#000" stroke-width="3.01"/>
<text class="s" text-anchor="middle" transform="translate(632.2 1475.14) scale(1.04 0.9)">***</text>
</g>
<g>
<line x1="799.27" y1="1607.87" x2="1007.39" y2="1607.87" stroke="#000" stroke-width="2.81" stroke-linecap="round" stroke-dasharray="0 7.65"/>
<path d="M816.44 1570.65H832.89M816.44 1631.85H832.89M824.66 1570.65V1574.39M824.66 1598.63V1631.85M809.9 1574.39H839.43V1598.63H809.9ZM809.9 1588.63H839.43" fill="none" stroke="#FE0505" stroke-width="3.61" stroke-linejoin="miter"/>
<path d="M866.65 1577.39H883.1M866.65 1709.05H883.1M874.88 1577.39V1583.64M874.88 1681.07V1709.05M860.11 1583.64H889.65V1681.07H860.11ZM860.11 1624.86H889.65" fill="none" stroke="#0DB877" stroke-width="3.61" stroke-linejoin="miter"/>
<path d="M916.62 1494.95H933.07M916.62 1626.61H933.07M924.84 1494.95V1510.44M924.84 1623.61V1626.61M910.08 1510.44H939.61V1623.61H910.08ZM910.08 1566.15H939.61" fill="none" stroke="#8C8CFA" stroke-width="3.61" stroke-linejoin="miter"/>
<path d="M966.08 1603.62H982.54M966.08 1683.07H982.54M974.31 1603.62V1625.36M974.31 1669.83V1683.07M959.54 1625.36H989.08V1669.83H959.54ZM959.54 1639.35H989.08" fill="none" stroke="#4D9BF7" stroke-width="3.61" stroke-linejoin="miter"/>
<path d="M791.94 1485.97V1727.29H1009.29M781.03 1487.45H791.94M781.03 1547.91H791.94M781.03 1607.87H791.94M781.03 1667.83H791.94M781.03 1727.29H791.94M899.36 1727.29V1737.93" fill="none" stroke="#000" stroke-width="2.96" stroke-linecap="butt" stroke-linejoin="miter"/>
<text class="b" text-anchor="end" transform="translate(778.46 1493.94) scale(1.01 0.92)">1.0</text>
<text class="b" text-anchor="end" transform="translate(778.46 1554.4) scale(1.01 0.92)">0.5</text>
<text class="b" text-anchor="end" transform="translate(778.46 1614.36) scale(1.01 0.92)">0.0</text>
<text class="b" text-anchor="end" transform="translate(778.46 1674.32) scale(1.01 0.92)">-0.5</text>
<text class="b" text-anchor="end" transform="translate(778.46 1733.78) scale(1.01 0.92)">-1.0</text>
<text class="b" text-anchor="middle" transform="translate(732.27 1607.37) rotate(-90) scale(1.01 1.04)">Peak intensity (Normalized)</text>
<text class="b" text-anchor="middle" transform="translate(899.36 1756.82) scale(1.01 0.92)">PEP</text>
<line x1="860.56" y1="1479.46" x2="888.7" y2="1479.46" stroke="#000" stroke-width="2.96"/>
<text class="n" text-anchor="middle" transform="translate(874.88 1469.12) scale(0.99 0.96)">ns</text>
<line x1="910.52" y1="1479.46" x2="938.67" y2="1479.46" stroke="#000" stroke-width="2.96"/>
<text class="n" text-anchor="middle" transform="translate(924.84 1469.12) scale(0.99 0.96)">ns</text>
<line x1="962.61" y1="1478.21" x2="990.76" y2="1478.21" stroke="#000" stroke-width="2.96"/>
<text class="s" text-anchor="middle" transform="translate(978.9 1475.29) scale(0.99 0.91)">*</text>
</g>
<g>
<line x1="1137.85" y1="1595.13" x2="1341.18" y2="1595.13" stroke="#000" stroke-width="2.88" stroke-linecap="round" stroke-dasharray="0 7.48"/>
<path d="M1154.63 1511.94H1170.7M1154.63 1631.85H1170.7M1162.66 1511.94V1530.67M1162.66 1618.11V1631.85M1148.24 1530.67H1177.09V1618.11H1148.24ZM1148.24 1569.9H1177.09" fill="none" stroke="#FE0505" stroke-width="3.7" stroke-linejoin="miter"/>
<path d="M1203.59 1536.67H1219.67M1203.59 1640.85H1219.67M1211.63 1536.67V1541.67M1211.63 1604.37V1640.85M1197.2 1541.67H1226.06V1604.37H1197.2ZM1197.2 1572.39H1226.06" fill="none" stroke="#0DB877" stroke-width="3.7" stroke-linejoin="miter"/>
<path d="M1252.56 1601.12H1268.63M1252.56 1684.82H1268.63M1260.6 1601.12V1611.12M1260.6 1661.08V1684.82M1246.17 1611.12H1275.02V1661.08H1246.17ZM1246.17 1621.11H1275.02" fill="none" stroke="#8C8CFA" stroke-width="3.7" stroke-linejoin="miter"/>
<path d="M1301.28 1577.89H1317.35M1301.28 1632.35H1317.35M1309.31 1577.89V1585.63M1309.31 1608.12V1632.35M1294.89 1585.63H1323.74V1608.12H1294.89ZM1294.89 1598.63H1323.74" fill="none" stroke="#4D9BF7" stroke-width="3.7" stroke-linejoin="miter"/>
<path d="M1130.69 1464.95V1723.54H1343.04M1120.04 1466.47H1130.69M1120.04 1509.19H1130.69M1120.04 1552.16H1130.69M1120.04 1595.13H1130.69M1120.04 1638.1H1130.69M1120.04 1680.82H1130.69M1120.04 1723.54H1130.69M1236.11 1723.54V1734.95" fill="none" stroke="#000" stroke-width="3.03" stroke-linecap="butt" stroke-linejoin="miter"/>
<text class="b" text-anchor="end" transform="translate(1117.52 1473.42) scale(0.98 0.99)">1.5</text>
<text class="b" text-anchor="end" transform="translate(1117.52 1516.14) scale(0.98 0.99)">1.0</text>
<text class="b" text-anchor="end" transform="translate(1117.52 1559.11) scale(0.98 0.99)">0.5</text>
<text class="b" text-anchor="end" transform="translate(1117.52 1602.09) scale(0.98 0.99)">0.0</text>
<text class="b" text-anchor="end" transform="translate(1117.52 1645.06) scale(0.98 0.99)">-0.5</text>
<text class="b" text-anchor="end" transform="translate(1117.52 1687.78) scale(0.98 0.99)">-1.0</text>
<text class="b" text-anchor="end" transform="translate(1117.52 1730.5) scale(0.98 0.99)">-1.5</text>
<text class="b" text-anchor="middle" transform="translate(1072.39 1595) rotate(-90) scale(1.09 1.02)">Peak intensity (Normalized)</text>
<text class="b" text-anchor="middle" transform="translate(1236.11 1754.32) scale(0.98 0.99)">3-Phosphoglyceric acid</text>
<line x1="1197.88" y1="1481.71" x2="1225.38" y2="1481.71" stroke="#000" stroke-width="3.03"/>
<text class="n" text-anchor="middle" transform="translate(1211.63 1470.37) scale(0.97 1.03)">ns</text>
<line x1="1246.72" y1="1481.71" x2="1274.22" y2="1481.71" stroke="#000" stroke-width="3.03"/>
<text class="s" text-anchor="middle" transform="translate(1261.42 1478.59) scale(0.97 0.98)">*</text>
<line x1="1297.81" y1="1481.71" x2="1325.31" y2="1481.71" stroke="#000" stroke-width="3.03"/>
<text class="n" text-anchor="middle" transform="translate(1311.31 1470.37) scale(0.97 1.03)">ns</text>
</g>
<g>
<line x1="136.8" y1="1958.63" x2="346.59" y2="1958.63" stroke="#000" stroke-width="2.91" stroke-linecap="round" stroke-dasharray="0 7.71"/>
<path d="M154.34 1926.9H170.93M154.34 2021.58H170.93M162.64 1926.9V1947.88M162.64 2003.59V2021.58M147.75 1947.88H177.52V2003.59H147.75ZM147.75 1988.61H177.52" fill="none" stroke="#FE0505" stroke-width="3.75" stroke-linejoin="miter"/>
<path d="M204.81 1935.39H221.39M204.81 2060.56H221.39M213.1 1935.39V1944.14M213.1 2022.83V2060.56M198.22 1944.14H227.99V2022.83H198.22ZM198.22 1964.37H227.99" fill="none" stroke="#0DB877" stroke-width="3.75" stroke-linejoin="miter"/>
<path d="M255.27 1928.65H271.86M255.27 1993.6H271.86M263.57 1928.65V1935.39M263.57 1978.61V1993.6M248.68 1935.39H278.45V1978.61H248.68ZM248.68 1962.37H278.45" fill="none" stroke="#8C8CFA" stroke-width="3.75" stroke-linejoin="miter"/>
<path d="M305.74 1867.69H322.32M305.74 1947.38H322.32M314.03 1867.69V1884.18M314.03 1936.64V1947.38M299.15 1884.18H328.92V1936.64H299.15ZM299.15 1929.4H328.92" fill="none" stroke="#4D9BF7" stroke-width="3.75" stroke-linejoin="miter"/>
<path d="M129.41 1829.18V2086.54H348.51M118.42 1830.71H129.41M118.42 1894.67H129.41M118.42 1958.63H129.41M118.42 2022.58H129.41M118.42 2086.54H129.41M238.58 2086.54V2097.89" fill="none" stroke="#000" stroke-width="3.07" stroke-linecap="butt" stroke-linejoin="miter"/>
<text class="b" text-anchor="end" transform="translate(115.82 1837.64) scale(1.01 0.98)">1.0</text>
<text class="b" text-anchor="end" transform="translate(115.82 1901.59) scale(1.01 0.98)">0.5</text>
<text class="b" text-anchor="end" transform="translate(115.82 1965.55) scale(1.01 0.98)">0.0</text>
<text class="b" text-anchor="end" transform="translate(115.82 2029.5) scale(1.01 0.98)">-0.5</text>
<text class="b" text-anchor="end" transform="translate(115.82 2093.46) scale(1.01 0.98)">-1.0</text>
<text class="b" text-anchor="middle" transform="translate(69.27 1958.63) rotate(-90) scale(1.08 1.05)">Peak intensity (Normalized)</text>
<text class="b" text-anchor="middle" transform="translate(238.58 2118.07) scale(1.01 0.98)">Lactic acid</text>
<line x1="199.04" y1="1845.7" x2="227.41" y2="1845.7" stroke="#000" stroke-width="3.07"/>
<text class="n" text-anchor="middle" transform="translate(213.1 1834.11) scale(1 1.03)">ns</text>
<line x1="249.63" y1="1845.7" x2="278" y2="1845.7" stroke="#000" stroke-width="3.07"/>
<text class="n" text-anchor="middle" transform="translate(263.57 1834.11) scale(1 1.03)">ns</text>
<line x1="302.09" y1="1845.7" x2="330.47" y2="1845.7" stroke="#000" stroke-width="3.07"/>
<text class="s" text-anchor="middle" transform="translate(317.63 1842.53) scale(1 0.97)">*</text>
</g>
<g>
<line x1="458.32" y1="1933.14" x2="667.87" y2="1933.14" stroke="#000" stroke-width="2.91" stroke-linecap="round" stroke-dasharray="0 7.7"/>
<path d="M475.38 1887.18H491.95M475.38 1918H491.95M483.66 1887.18V1905.66M483.66 1914.91V1918M468.79 1905.66H498.53V1914.91H468.79ZM468.79 1911.66H498.53" fill="none" stroke="#FE0505" stroke-width="3.74" stroke-linejoin="miter"/>
<path d="M525.85 1868.69H542.41M525.85 1974.37H542.41M534.13 1868.69V1879.43M534.13 1953.63V1974.37M519.26 1879.43H549V1953.63H519.26ZM519.26 1897.92H549" fill="none" stroke="#0DB877" stroke-width="3.74" stroke-linejoin="miter"/>
<path d="M576.31 1864.94H592.88M576.31 1935.89H592.88M584.59 1864.94V1868.19M584.59 1921.15V1935.89M569.72 1868.19H599.46V1921.15H569.72ZM569.72 1901.17H599.46" fill="none" stroke="#8C8CFA" stroke-width="3.74" stroke-linejoin="miter"/>
<path d="M626.53 1986.86H643.09M626.53 2040.57H643.09M634.81 1986.86V1997.35M634.81 2030.58V2040.57M619.94 1997.35H649.68V2030.58H619.94ZM619.94 2015.59H649.68" fill="none" stroke="#4D9BF7" stroke-width="3.74" stroke-linejoin="miter"/>
<path d="M450.94 1829.18V2086.54H669.78M439.96 1830.71H450.94M439.96 1881.93H450.94M439.96 1933.14H450.94M439.96 1984.36H450.94M439.96 2035.57H450.94M439.96 2086.54H450.94M558.86 2086.54V2097.89" fill="none" stroke="#000" stroke-width="3.07" stroke-linecap="butt" stroke-linejoin="miter"/>
<text class="b" text-anchor="end" transform="translate(437.36 1837.64) scale(1.01 0.98)">1.0</text>
<text class="b" text-anchor="end" transform="translate(437.36 1888.85) scale(1.01 0.98)">0.5</text>
<text class="b" text-anchor="end" transform="translate(437.36 1940.07) scale(1.01 0.98)">0.0</text>
<text class="b" text-anchor="end" transform="translate(437.36 1991.28) scale(1.01 0.98)">-0.5</text>
<text class="b" text-anchor="end" transform="translate(437.36 2042.5) scale(1.01 0.98)">-1.0</text>
<text class="b" text-anchor="end" transform="translate(437.36 2093.46) scale(1.01 0.98)">-1.5</text>
<text class="b" text-anchor="middle" transform="translate(390.86 1958.63) rotate(-90) scale(1.08 1.05)">Peak intensity (Normalized)</text>
<text class="b" text-anchor="middle" transform="translate(558.86 2118.07) scale(1.01 0.98)">Oxaloacetic acid</text>
<line x1="520.08" y1="1845.7" x2="548.42" y2="1845.7" stroke="#000" stroke-width="3.07"/>
<text class="n" text-anchor="middle" transform="translate(534.13 1834.11) scale(1 1.03)">ns</text>
<line x1="570.42" y1="1845.7" x2="598.76" y2="1845.7" stroke="#000" stroke-width="3.07"/>
<text class="n" text-anchor="middle" transform="translate(584.59 1834.11) scale(1 1.03)">ns</text>
<line x1="622.89" y1="1845.7" x2="651.23" y2="1845.7" stroke="#000" stroke-width="3.07"/>
<text class="s" text-anchor="middle" transform="translate(638.41 1842.53) scale(1 0.97)">***</text>
</g>
<g>
<line x1="801.06" y1="1965.87" x2="1010.37" y2="1965.87" stroke="#000" stroke-width="2.86" stroke-linecap="round" stroke-dasharray="0 7.7"/>
<path d="M818.39 1890.42H834.94M818.39 1964.87H834.94M826.66 1890.42V1912.41M826.66 1952.88V1964.87M811.81 1912.41H841.51V1952.88H811.81ZM811.81 1944.89H841.51" fill="none" stroke="#FE0505" stroke-width="3.68" stroke-linejoin="miter"/>
<path d="M868.85 1861.69H885.4M868.85 2002.35H885.4M877.13 1861.69V1899.92M877.13 1977.36V2002.35M862.27 1899.92H891.98V1977.36H862.27ZM862.27 1956.13H891.98" fill="none" stroke="#0DB877" stroke-width="3.68" stroke-linejoin="miter"/>
<path d="M919.32 1906.66H935.87M919.32 2019.08H935.87M927.59 1906.66V1936.14M927.59 1994.35V2019.08M912.74 1936.14H942.44V1994.35H912.74ZM912.74 1971.12H942.44" fill="none" stroke="#8C8CFA" stroke-width="3.68" stroke-linejoin="miter"/>
<path d="M969.53 1942.39H986.08M969.53 2053.06H986.08M977.81 1942.39V1988.61M977.81 2050.31V2053.06M962.95 1988.61H992.66V2050.31H962.95ZM962.95 2033.07H992.66" fill="none" stroke="#4D9BF7" stroke-width="3.68" stroke-linejoin="miter"/>
<path d="M793.68 1840.45V2089.54H1012.28M782.72 1841.96H793.68M782.72 1903.91H793.68M782.72 1965.87H793.68M782.72 2027.83H793.68M782.72 2089.54H793.68M902.36 2089.54V2100.53" fill="none" stroke="#000" stroke-width="3.01" stroke-linecap="butt" stroke-linejoin="miter"/>
<text class="b" text-anchor="end" transform="translate(780.13 1848.66) scale(1.01 0.95)">1.0</text>
<text class="b" text-anchor="end" transform="translate(780.13 1910.61) scale(1.01 0.95)">0.5</text>
<text class="b" text-anchor="end" transform="translate(780.13 1972.57) scale(1.01 0.95)">0.0</text>
<text class="b" text-anchor="end" transform="translate(780.13 2034.53) scale(1.01 0.95)">-0.5</text>
<text class="b" text-anchor="end" transform="translate(780.13 2096.23) scale(1.01 0.95)">-1.0</text>
<text class="b" text-anchor="middle" transform="translate(733.68 1965.75) rotate(-90) scale(1.05 1.05)">Peak intensity (Normalized)</text>
<text class="b" text-anchor="middle" transform="translate(902.36 2119.31) scale(1.01 0.95)">Lactose</text>
<line x1="862.85" y1="1845.7" x2="891.16" y2="1845.7" stroke="#000" stroke-width="3.01"/>
<text class="n" text-anchor="middle" transform="translate(877.13 1834.86) scale(1 0.99)">ns</text>
<line x1="912.94" y1="1844.46" x2="941.25" y2="1844.46" stroke="#000" stroke-width="3.01"/>
<text class="n" text-anchor="middle" transform="translate(927.34 1833.36) scale(1 0.99)">ns</text>
<line x1="965.65" y1="1843.96" x2="993.96" y2="1843.96" stroke="#000" stroke-width="3.01"/>
<text class="s" text-anchor="middle" transform="translate(981.15 1840.15) scale(1 0.94)">*</text>
</g>
<g>
<line x1="1130.16" y1="1925.65" x2="1349.04" y2="1925.65" stroke="#000" stroke-width="2.92" stroke-linecap="round" stroke-dasharray="0 8.05"/>
<path d="M1148.27 1867.44H1165.57M1148.27 1897.27H1165.57M1156.92 1867.44V1871.06M1156.92 1883.18V1897.27M1141.39 1871.06H1172.45V1883.18H1141.39ZM1141.39 1877.03H1172.45" fill="none" stroke="#FE0505" stroke-width="3.75" stroke-linejoin="miter"/>
<path d="M1200.98 1858.8H1218.28M1200.98 1934.97H1218.28M1209.63 1858.8V1863.19M1209.63 1918.65V1934.97M1194.1 1863.19H1225.16V1918.65H1194.1ZM1194.1 1866.19H1225.16" fill="none" stroke="#0DB877" stroke-width="3.75" stroke-linejoin="miter"/>
<path d="M1253.44 1857.7H1270.75M1253.44 1938.81H1270.75M1262.1 1857.7V1862.37M1262.1 1916.16V1938.81M1246.56 1862.37H1277.63V1916.16H1246.56ZM1246.56 1902.91H1277.63" fill="none" stroke="#8C8CFA" stroke-width="3.75" stroke-linejoin="miter"/>
<path d="M1306.16 2029.9H1323.46M1306.16 2062.8H1323.46M1314.81 2029.9V2035.02M1314.81 2051.19V2062.8M1299.28 2035.02H1330.34V2051.19H1299.28ZM1299.28 2046.69H1330.34" fill="none" stroke="#4D9BF7" stroke-width="3.75" stroke-linejoin="miter"/>
<path d="M1122.44 1842.17V2089.78H1351.03M1110.98 1843.71H1122.44M1110.98 1925.65H1122.44M1110.98 2007.84H1122.44M1110.98 2089.78H1122.44M1236.11 2089.78V2100.71" fill="none" stroke="#000" stroke-width="3.07" stroke-linecap="butt" stroke-linejoin="miter"/>
<text class="b" text-anchor="end" transform="translate(1108.27 1850.36) scale(1.06 0.95)">1</text>
<text class="b" text-anchor="end" transform="translate(1108.27 1932.31) scale(1.06 0.95)">0</text>
<text class="b" text-anchor="end" transform="translate(1108.27 2014.5) scale(1.06 0.95)">-1</text>
<text class="b" text-anchor="end" transform="translate(1108.27 2096.44) scale(1.06 0.95)">-2</text>
<text class="b" text-anchor="middle" transform="translate(1077.62 1966.75) rotate(-90) scale(1.04 1.09)">Peak intensity (Normalized)</text>
<text class="b" text-anchor="middle" transform="translate(1236.11 2119.31) scale(1.06 0.95)">Sorbitol</text>
<line x1="1194.83" y1="1845.7" x2="1224.43" y2="1845.7" stroke="#000" stroke-width="3.07"/>
<text class="n" text-anchor="middle" transform="translate(1209.63 1834.86) scale(1.04 0.99)">ns</text>
<line x1="1247.29" y1="1844.46" x2="1276.9" y2="1844.46" stroke="#000" stroke-width="3.07"/>
<text class="n" text-anchor="middle" transform="translate(1262.1 1833.36) scale(1.04 0.99)">ns</text>
<line x1="1302.26" y1="1843.21" x2="1331.86" y2="1843.21" stroke="#000" stroke-width="3.07"/>
<text class="s" text-anchor="middle" transform="translate(1318.94 1840.08) scale(1.04 0.94)">***</text>
</g>
<g>
<line x1="124.65" y1="2262.65" x2="344.01" y2="2262.65" stroke="#000" stroke-width="2.89" stroke-linecap="round" stroke-dasharray="0 8.06"/>
<path d="M142.72 2221.3H160.07M142.72 2237.17H160.07M151.39 2221.3V2224.68M151.39 2234.3V2237.17M135.83 2224.68H166.96V2234.3H135.83ZM135.83 2227.43H166.96" fill="none" stroke="#FE0505" stroke-width="3.72" stroke-linejoin="miter"/>
<path d="M195.94 2211.69H213.28M195.94 2260.08H213.28M204.61 2211.69V2217.03M204.61 2257.03V2260.08M189.04 2217.03H220.17V2257.03H189.04ZM189.04 2219.63H220.17" fill="none" stroke="#0DB877" stroke-width="3.72" stroke-linejoin="miter"/>
<path d="M248.4 2212.14H265.74M248.4 2265.97H265.74M257.07 2212.14V2215.51M257.07 2252.46V2265.97M241.51 2215.51H272.64V2252.46H241.51ZM241.51 2248.54H272.64" fill="none" stroke="#8C8CFA" stroke-width="3.72" stroke-linejoin="miter"/>
<path d="M301.11 2336.85H318.46M301.11 2380.57H318.46M309.78 2336.85V2341.1M309.78 2361.08V2380.57M294.22 2341.1H325.35V2361.08H294.22ZM294.22 2349.09H325.35" fill="none" stroke="#4D9BF7" stroke-width="3.72" stroke-linejoin="miter"/>
<path d="M116.92 2200.42V2443.53H346.01M105.43 2201.94H116.92M105.43 2262.65H116.92M105.43 2323.11H116.92M105.43 2383.07H116.92M105.43 2443.53H116.92M230.59 2443.53V2454.25" fill="none" stroke="#000" stroke-width="3.05" stroke-linecap="butt" stroke-linejoin="miter"/>
<text class="b" text-anchor="end" transform="translate(102.71 2208.48) scale(1.06 0.93)">1</text>
<text class="b" text-anchor="end" transform="translate(102.71 2269.19) scale(1.06 0.93)">0</text>
<text class="b" text-anchor="end" transform="translate(102.71 2329.65) scale(1.06 0.93)">-1</text>
<text class="b" text-anchor="end" transform="translate(102.71 2389.6) scale(1.06 0.93)">-2</text>
<text class="b" text-anchor="end" transform="translate(102.71 2450.06) scale(1.06 0.93)">-3</text>
<text class="b" text-anchor="middle" transform="translate(72 2322.73) rotate(-90) scale(1.02 1.1)">Peak intensity (Normalized)</text>
<text class="b" text-anchor="middle" transform="translate(230.59 2473.06) scale(1.06 0.93)">Dulcitol</text>
<line x1="189.77" y1="2194.45" x2="219.44" y2="2194.45" stroke="#000" stroke-width="3.05"/>
<text class="n" text-anchor="middle" transform="translate(204.61 2184.61) scale(1.04 0.97)">ns</text>
<line x1="242.24" y1="2196.95" x2="271.91" y2="2196.95" stroke="#000" stroke-width="3.05"/>
<text class="n" text-anchor="middle" transform="translate(257.07 2187.1) scale(1.04 0.97)">ns</text>
<line x1="297.2" y1="2194.45" x2="326.87" y2="2194.45" stroke="#000" stroke-width="3.05"/>
<text class="s" text-anchor="middle" transform="translate(313.92 2191.86) scale(1.04 0.92)">***</text>
</g>
<g>
<line x1="458.32" y1="2292.88" x2="667.87" y2="2292.88" stroke="#000" stroke-width="2.86" stroke-linecap="round" stroke-dasharray="0 7.7"/>
<path d="M475.38 2242.17H491.95M475.38 2331.1H491.95M483.66 2242.17V2266.15M483.66 2318.61V2331.1M468.79 2266.15H498.53V2318.61H468.79ZM468.79 2299.38H498.53" fill="none" stroke="#FE0505" stroke-width="3.68" stroke-linejoin="miter"/>
<path d="M525.85 2258.15H542.41M525.85 2434.03H542.41M534.13 2258.15V2264.4M534.13 2355.34V2434.03M519.26 2264.4H549V2355.34H519.26ZM519.26 2285.63H549" fill="none" stroke="#0DB877" stroke-width="3.68" stroke-linejoin="miter"/>
<path d="M576.31 2239.42H592.88M576.31 2363.08H592.88M584.59 2239.42V2276.89M584.59 2359.83V2363.08M569.72 2276.89H599.46V2359.83H569.72ZM569.72 2318.11H599.46" fill="none" stroke="#8C8CFA" stroke-width="3.68" stroke-linejoin="miter"/>
<path d="M626.53 2216.68H643.09M626.53 2299.88H643.09M634.81 2216.68V2221.68M634.81 2274.39V2299.88M619.94 2221.68H649.68V2274.39H619.94ZM619.94 2262.4H649.68" fill="none" stroke="#4D9BF7" stroke-width="3.68" stroke-linejoin="miter"/>
<path d="M450.94 2192.44V2441.28H669.78M439.96 2193.95H450.94M439.96 2243.41H450.94M439.96 2292.88H450.94M439.96 2342.35H450.94M439.96 2391.81H450.94M439.96 2441.28H450.94M558.86 2441.28V2452.26" fill="none" stroke="#000" stroke-width="3.01" stroke-linecap="butt" stroke-linejoin="miter"/>
<text class="b" text-anchor="end" transform="translate(437.36 2200.64) scale(1.01 0.95)">1.0</text>
<text class="b" text-anchor="end" transform="translate(437.36 2250.11) scale(1.01 0.95)">0.5</text>
<text class="b" text-anchor="end" transform="translate(437.36 2299.57) scale(1.01 0.95)">0.0</text>
<text class="b" text-anchor="end" transform="translate(437.36 2349.04) scale(1.01 0.95)">-0.5</text>
<text class="b" text-anchor="end" transform="translate(437.36 2398.5) scale(1.01 0.95)">-1.0</text>
<text class="b" text-anchor="end" transform="translate(437.36 2447.97) scale(1.01 0.95)">-1.5</text>
<text class="b" text-anchor="middle" transform="translate(390.86 2317.61) rotate(-90) scale(1.05 1.05)">Peak intensity (Normalized)</text>
<text class="b" text-anchor="middle" transform="translate(558.86 2471.81) scale(1.01 0.95)">Fructose</text>
<line x1="520.08" y1="2197.45" x2="548.42" y2="2197.45" stroke="#000" stroke-width="3.01"/>
<text class="n" text-anchor="middle" transform="translate(534.13 2186.6) scale(1 0.99)">ns</text>
<line x1="570.42" y1="2196.2" x2="598.76" y2="2196.2" stroke="#000" stroke-width="3.01"/>
<text class="n" text-anchor="middle" transform="translate(584.59 2184.86) scale(1 0.99)">ns</text>
<line x1="622.89" y1="2198.7" x2="651.23" y2="2198.7" stroke="#000" stroke-width="3.01"/>
<text class="n" text-anchor="middle" transform="translate(637.31 2187.85) scale(1 0.99)">ns</text>
</g>
<g>
<line x1="801.06" y1="2319.61" x2="1010.37" y2="2319.61" stroke="#000" stroke-width="2.85" stroke-linecap="round" stroke-dasharray="0 7.7"/>
<path d="M818.39 2230.17H834.94M818.39 2326.86H834.94M826.66 2230.17V2268.65M826.66 2304.37V2326.86M811.81 2268.65H841.51V2304.37H811.81ZM811.81 2291.38H841.51" fill="none" stroke="#FE0505" stroke-width="3.66" stroke-linejoin="miter"/>
<path d="M868.85 2305.12H885.4M868.85 2394.31H885.4M877.13 2305.12V2324.86M877.13 2366.08V2394.31M862.27 2324.86H891.98V2366.08H862.27ZM862.27 2337.35H891.98" fill="none" stroke="#0DB877" stroke-width="3.66" stroke-linejoin="miter"/>
<path d="M919.32 2220.18H935.87M919.32 2369.83H935.87M927.59 2220.18V2276.14M927.59 2346.59V2369.83M912.74 2276.14H942.44V2346.59H912.74ZM912.74 2317.36H942.44" fill="none" stroke="#8C8CFA" stroke-width="3.66" stroke-linejoin="miter"/>
<path d="M969.53 2271.39H986.08M969.53 2399.31H986.08M977.81 2271.39V2319.86M977.81 2357.83V2399.31M962.95 2319.86H992.66V2357.83H962.95ZM962.95 2342.35H992.66" fill="none" stroke="#4D9BF7" stroke-width="3.66" stroke-linejoin="miter"/>
<path d="M793.68 2195.7V2442.28H1012.28M782.72 2197.2H793.68M782.72 2258.4H793.68M782.72 2319.61H793.68M782.72 2381.07H793.68M782.72 2442.28H793.68M902.36 2442.28V2453.16" fill="none" stroke="#000" stroke-width="3" stroke-linecap="butt" stroke-linejoin="miter"/>
<text class="b" text-anchor="end" transform="translate(780.13 2203.83) scale(1.01 0.94)">1.0</text>
<text class="b" text-anchor="end" transform="translate(780.13 2265.04) scale(1.01 0.94)">0.5</text>
<text class="b" text-anchor="end" transform="translate(780.13 2326.24) scale(1.01 0.94)">0.0</text>
<text class="b" text-anchor="end" transform="translate(780.13 2387.7) scale(1.01 0.94)">-0.5</text>
<text class="b" text-anchor="end" transform="translate(780.13 2448.91) scale(1.01 0.94)">-1.0</text>
<text class="b" text-anchor="middle" transform="translate(733.68 2319.74) rotate(-90) scale(1.04 1.05)">Peak intensity (Normalized)</text>
<text class="b" text-anchor="middle" transform="translate(902.36 2471.81) scale(1.01 0.94)">Raffinose</text>
<line x1="859.1" y1="2198.2" x2="887.41" y2="2198.2" stroke="#000" stroke-width="3"/>
<text class="n" text-anchor="middle" transform="translate(873.13 2187.35) scale(1 0.98)">ns</text>
<line x1="912.94" y1="2196.95" x2="941.25" y2="2196.95" stroke="#000" stroke-width="3"/>
<text class="n" text-anchor="middle" transform="translate(927.34 2185.85) scale(1 0.98)">ns</text>
<line x1="965.65" y1="2195.2" x2="993.96" y2="2195.2" stroke="#000" stroke-width="3"/>
<text class="n" text-anchor="middle" transform="translate(980.31 2184.86) scale(1 0.98)">ns</text>
</g>
<g>
<line x1="1142.07" y1="2319.61" x2="1351.62" y2="2319.61" stroke="#000" stroke-width="2.85" stroke-linecap="round" stroke-dasharray="0 7.7"/>
<path d="M1159.38 2326.61H1175.94M1159.38 2399.81H1175.94M1167.66 2326.61V2338.1M1167.66 2376.07V2399.81M1152.79 2338.1H1182.53V2376.07H1152.79ZM1152.79 2356.09H1182.53" fill="none" stroke="#FE0505" stroke-width="3.66" stroke-linejoin="miter"/>
<path d="M1210.09 2255.41H1226.66M1210.09 2373.07H1226.66M1218.38 2255.41V2261.15M1218.38 2358.58V2373.07M1203.51 2261.15H1233.25V2358.58H1203.51ZM1203.51 2284.89H1233.25" fill="none" stroke="#0DB877" stroke-width="3.66" stroke-linejoin="miter"/>
<path d="M1260.31 2239.42H1276.87M1260.31 2325.36H1276.87M1268.59 2239.42V2270.4M1268.59 2317.36V2325.36M1253.72 2270.4H1283.46V2317.36H1253.72ZM1253.72 2291.88H1283.46" fill="none" stroke="#8C8CFA" stroke-width="3.66" stroke-linejoin="miter"/>
<path d="M1310.77 2314.12H1327.34M1310.77 2344.84H1327.34M1319.06 2314.12V2321.61M1319.06 2334.85V2344.84M1304.19 2321.61H1333.93V2334.85H1304.19ZM1304.19 2328.61H1333.93" fill="none" stroke="#4D9BF7" stroke-width="3.66" stroke-linejoin="miter"/>
<path d="M1134.68 2195.95V2442.28H1353.53M1123.71 2197.45H1134.68M1123.71 2238.17H1134.68M1123.71 2278.89H1134.68M1123.71 2319.61H1134.68M1123.71 2360.58H1134.68M1123.71 2401.3H1134.68M1123.71 2442.28H1134.68M1243.36 2442.28V2453.15" fill="none" stroke="#000" stroke-width="3" stroke-linecap="butt" stroke-linejoin="miter"/>
<text class="b" text-anchor="end" transform="translate(1121.11 2204.07) scale(1.01 0.94)">0.6</text>
<text class="b" text-anchor="end" transform="translate(1121.11 2244.79) scale(1.01 0.94)">0.4</text>
<text class="b" text-anchor="end" transform="translate(1121.11 2285.52) scale(1.01 0.94)">0.2</text>
<text class="b" text-anchor="end" transform="translate(1121.11 2326.24) scale(1.01 0.94)">0.0</text>
<text class="b" text-anchor="end" transform="translate(1121.11 2367.21) scale(1.01 0.94)">-0.2</text>
<text class="b" text-anchor="end" transform="translate(1121.11 2407.93) scale(1.01 0.94)">-0.4</text>
<text class="b" text-anchor="end" transform="translate(1121.11 2448.9) scale(1.01 0.94)">-0.6</text>
<text class="b" text-anchor="middle" transform="translate(1074.61 2319.86) rotate(-90) scale(1.04 1.05)">Peak intensity (Normalized)</text>
<text class="b" text-anchor="middle" transform="translate(1243.36 2471.81) scale(1.01 0.94)">Acetylcarnitine</text>
<line x1="1200.33" y1="2198.2" x2="1228.67" y2="2198.2" stroke="#000" stroke-width="3"/>
<text class="s" text-anchor="middle" transform="translate(1215.73 2195.51) scale(1 0.93)">*</text>
<line x1="1254.67" y1="2196.95" x2="1283.01" y2="2196.95" stroke="#000" stroke-width="3"/>
<text class="s" text-anchor="middle" transform="translate(1270.19 2193.26) scale(1 0.93)">*</text>
<line x1="1307.13" y1="2195.2" x2="1335.48" y2="2195.2" stroke="#000" stroke-width="3"/>
<text class="n" text-anchor="middle" transform="translate(1321.55 2184.86) scale(1 0.98)">ns</text>
</g>
<g>
<rect x="1358.6" y="57" width="23.4" height="9.7" fill="none" stroke="#FE0000" stroke-width="4"/>
<text class="l" transform="translate(1399.2 70.3) scale(1 1)" font-size="21.3">P01</text>
<rect x="1358.6" y="92" width="23.4" height="9.7" fill="none" stroke="#0DBA77" stroke-width="4"/>
<text class="l" transform="translate(1399.2 104.8) scale(1 1)" font-size="21.3">P03</text>
<rect x="1358.6" y="127" width="23.4" height="9.7" fill="none" stroke="#8A84FF" stroke-width="4"/>
<text class="l" transform="translate(1399.2 139.6) scale(1 1)" font-size="21.3">P07</text>
<rect x="1358.6" y="162" width="23.4" height="9.7" fill="none" stroke="#4A9CFF" stroke-width="4"/>
<text class="l" transform="translate(1399.2 174.4) scale(1 1)" font-size="21.3">P28</text>
</g>
<g>
<rect x="1363" y="787.6" width="22.3" height="8.6" fill="none" stroke="#FE0000" stroke-width="4"/>
<text class="l" transform="translate(1401.4 799.2) scale(1 0.93)" font-size="21.3">P01</text>
<rect x="1363" y="819.8" width="22.3" height="8.6" fill="none" stroke="#0DBA77" stroke-width="4"/>
<text class="l" transform="translate(1401.4 831.6) scale(1 0.93)" font-size="21.3">P03</text>
<rect x="1363" y="852" width="22.3" height="8.6" fill="none" stroke="#8A84FF" stroke-width="4"/>
<text class="l" transform="translate(1401.4 863.8) scale(1 0.93)" font-size="21.3">P07</text>
<rect x="1363" y="884.2" width="22.3" height="8.6" fill="none" stroke="#4A9CFF" stroke-width="4"/>
<text class="l" transform="translate(1401.4 895.8) scale(1 0.93)" font-size="21.3">P28</text>
</g>
<g>
<rect x="1362.1" y="1479.7" width="22.6" height="9.5" fill="none" stroke="#FE0000" stroke-width="4"/>
<text class="l" transform="translate(1400.8 1492.7) scale(1 1)" font-size="21.3">P01</text>
<rect x="1362.1" y="1514.5" width="22.6" height="9.5" fill="none" stroke="#0DBA77" stroke-width="4"/>
<text class="l" transform="translate(1400.8 1527.3) scale(1 1)" font-size="21.3">P03</text>
<rect x="1362.1" y="1549.3" width="22.6" height="9.5" fill="none" stroke="#8A84FF" stroke-width="4"/>
<text class="l" transform="translate(1400.8 1562.1) scale(1 1)" font-size="21.3">P07</text>
<rect x="1362.1" y="1584.1" width="22.6" height="9.5" fill="none" stroke="#4A9CFF" stroke-width="4"/>
<text class="l" transform="translate(1400.8 1596.8) scale(1 1)" font-size="21.3">P28</text>
</g>
<text class="p" x="3.5" y="32.2">A</text>
<text class="p" x="4.0" y="739.8">B</text>
<text class="p" x="3.9" y="1452.6">C</text>
</svg>
</body></html>
